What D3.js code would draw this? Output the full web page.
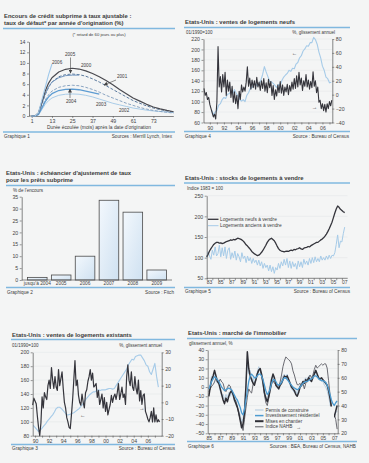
<!DOCTYPE html>
<html><head><meta charset="utf-8">
<script src="https://cdn.jsdelivr.net/npm/d3@7"></script>
<style>
html,body{margin:0;padding:0;background:#f4f5f5;}
svg{display:block;font-family:"Liberation Sans",Arial,sans-serif;}
</style></head><body>
<svg id="c" width="369" height="463"></svg>
<script>
// ---------- Graphique 1 : taux de défaut par année d'origination ----------
const p1Months = [1,3,5,7,9,11,13,17,21,25,29,33,37,41,45,49,53,57,61,65,69,73,77,81,85];
const p1_2000 = [0,0,0.6,2.6,4.7,6.2,7.2,8.3,8.8,9.0,8.85,8.5,8.0,7.4,6.7,5.9,5.0,4.2,3.4,2.8,2.2,1.7,1.35,1.05,0.8];
const p1_2001 = [0,0,0.4,2.2,4.0,5.4,6.4,7.4,7.8,7.9,7.8,7.5,7.0,6.4,5.7,5.0,4.3,3.6,2.9,2.4,1.9,1.5,1.2,0.95,0.75];
const p1_2002 = [0,0,0.3,1.6,3.0,4.0,4.7,5.4,5.7,5.8,5.7,5.4,5.0,4.5,3.9,3.4,2.9,2.4,2.0,1.6,1.3,1.05,0.85,0.7,0.55];
const p1_2003 = [0,0,0.2,1.2,2.2,2.9,3.4,3.9,4.1,4.15,4.1,3.9,3.6,3.2,2.8,2.4,2.1,1.8,1.5,1.3,1.1,0.95,0.85,0.75,0.65];
const p1_2004 = [0,0,0.3,1.5,2.7,3.6,4.2,4.8,5.0,5.05,4.95,4.7,4.4,4.1,null,null,null,null,null,null,null,null,null,null,null];
const p1_2005 = [0,0,0.5,2.4,4.2,5.5,6.4,7.2,7.6,7.7,7.7,null,null,null,null,null,null,null,null,null,null,null,null,null,null];
const p1_2006 = [0,0,0.6,3.0,5.4,7.8,9.8,null,null,null,null,null,null,null,null,null,null,null,null,null,null,null,null,null,null];
const p1YTicks = [0,2,4,6,8,10,12,14];
const p1XTicks = [1,13,25,37,49,61,73];

// ---------- Graphique 4 : ventes de logements neufs ----------
const p2Start = 1989 + 1/6;   // bimonthly points
const p2Yoy = [ // % glissement annuel (right axis)
  9,-1,3,-7,-4,
  -14,-20,-26,-32,-28,-35,
  -11,69,11,26,4,29,
  11,32,-1,21,5,18,
  -4,12,-11,4,-13,-1,
  -20,5,-7,14,4,11,
  5,18,40,12,24,8,
  21,10,20,8,25,11,
  18,6,20,9,23,5,
  17,3,22,10,19,-1,
  13,-7,7,-2,14,3,
  19,2,14,-1,11,4,
  15,0,13,5,18,8,
  23,9,27,11,32,14,
  24,6,20,12,29,11,
  21,8,19,10,33,12,
  20,3,11,-11,-8,-20,
  -13,-23,-14,-25,-13,-20,
  -10,-16,-8];
const p2LevelStart = 1990.25; // quarterly points
const p2Level = [ // 01/1990 = 100 (left axis)
  84,75,80,
  83,93,96,104,
  108,106,114,115,
  120,115,123,116,
  111,104,101,104,
  100,112,117,125,
  127,133,134,130,
  133,141,152,167,
  157,148,139,138,
  135,131,127,133,
  131,141,147,151,
  154,160,158,164,
  163,172,175,184,
  188,197,201,207,
  206,213,213,223,
  219,210,195,184,
  168,160,147,144,
  136,137];
const p2LeftTicks = [60,80,100,120,140,160,180,200,220];
const p2RightTicks = [-40,-20,0,20,40,60,80];

// ---------- Graphique 2 : échéancier d'ajustement ----------
const p3Cats = ["jusqu'à 2004","2005","2006","2007","2008","2009"];
const p3Vals = [1.1,2.1,10.0,33.5,28.5,4.2];
const p3Ticks = [0,5,10,15,20,25,30,35];

// ---------- Graphique 5 : stocks de logements à vendre ----------
const p4Start = 1983.0; // quarterly
const p4New = [
  102,108,116,122, 127,132,135,137, 137,135,136,134, 135,137,139,140,
  141,143,142,144, 143,145,147,146, 145,143,140,136, 131,128,124,120,
  115,112,109,107, 105,106,109,113, 118,124,130,137, 142,145,147,144,
  141,135,128,122, 118,116,115,114, 115,116,115,117, 118,117,120,119,
  121,122,124,121, 120,123,124,125, 127,126,129,131, 133,135,137,137,
  140,143,145,148, 152,157,163,170, 178,186,197,208, 218,225,222,217,
  214,211,209];
const p4Old = [
  100,114,104,96, 118,106,126,104, 110,130,102,124, 104,126,98,118,
  124,96,112,100, 116,94,110,102, 90,112,98,104, 88,104,92,100,
  86,98,88,94, 82,94,80,90, 74,86,76,82, 68,82,66,78,
  62,76,70,86, 74,90,80,96, 82,98,76,92, 74,90,78,86,
  72,92,78,90, 76,96,84,92, 82,98,86,100, 88,102,90,98,
  90,104,94,100, 94,104,96,106, 98,106,104,112, 132,155,124,140,
  138,158,174];
const p4Ticks = [50,100,150,200,250];
const p4Legend = ["Logements neufs à vendre","Logements anciens à vendre"];

// ---------- Graphique 3 : ventes de logements existants ----------
const p5YoyStart = 1989 + 4/6; // bimonthly
const p5Yoy = [
  -1.7,2.5,
  0.8,-0.8,-8.3,-15,-20,-12.5,
  3.3,-3.3,5.8,3.3,1.7,10,
  13.3,8.3,20.8,13.3,8.3,15.4,
  9.2,7.1,19.6,10,14.2,18.3,
  8.3,0,-3.3,-9.2,-11.7,-15,
  -15.8,-7.5,1.7,13.3,25,10,
  13.3,4.2,0,-1.7,5,0,
  -3.3,5.8,7.5,12.5,15.4,19.6,
  13.3,17.5,9.2,10,11.3,2.9,
  7.1,-1.3,1.7,5,-3.3,2.9,
  -5.4,0,-7.5,-4.2,-1.3,4.2,
  0,3.3,5,1.7,5.8,11.3,
  1.7,5,9.2,2.9,5,-1.3,
  15.4,22.5,13.3,10,18.3,9.2,
  7.1,15.4,8.3,5,13.3,0.8,
  7.1,-1.3,4.2,5,-5.4,-7.5,
  -10,-11.7,-9.2,-5.4,-11.7,-3.3,
  -11.7,-7.5,-11.7,-10.4,-11.7];
const p5LevelStart = 1989.75; // quarterly
const p5Level = [
  95,
  92,89,86,88, 91,94,97,101, 104,107,110,114, 119,121,121,119,
  116,113,110,110, 111,112,113,115, 117,119,122,125, 129,133,136,139,
  141,143,143,145, 146,145,146,146, 146,147,148,148, 147,148,152,156,
  160,164,168,172, 176,182,186,190, 189,194,195,196, 196,192,188,182,
  180,172,168,176, 184,165,150];
const p5LeftTicks = [80,100,120,140,160,180,200];
const p5RightTicks = [-20,-10,0,10,20,30];

// ---------- Graphique 6 : marché de l'immobilier ----------
const p6Start = 1985.0; // quarterly
const p6Permis = [
  -4,4,12,8, 14,8,4,6, -4,-10,-8,-14, -8,-12,-6,-10, -6,-10,-16,-14,
  -20,-26,-30,-38, -34,-22,4,24, 14,18,6,10, 4,12,16,22, 18,12,2,-8,
  -14,-10,-6,4, 10,12,6,4, 2,0,4,8, 12,14,10,14, 6,2,-2,-4,
  -6,-4,-8,-2, 2,4,6,8, 10,6,12,10, 8,12,16,14, 12,8,10,6,
  6,2,0,-4, -10,-18,-28,-36, -32,-28,-26];
const p6Invest = [
  -2,2,6,9, 11,10,8,6, 3,0,-2,-4, -3,-2,-1,-2, -3,-6,-9,-12,
  -14,-18,-22,-28, -30,-24,-14,-4, 6,12,14,12, 10,10,12,14, 14,12,8,2,
  -4,-8,-6,-2, 4,8,8,6, 3,2,3,5, 8,10,10,8, 6,4,2,0,
  -1,-2,-3,-2, 0,2,4,5, 6,6,7,8, 9,10,12,12, 11,9,8,7,
  7,6,5,2, -2,-8,-14,-18, -20,-17,-15];
const p6Mises = [
  -10,0,8,12, 18,12,6,4, -2,-8,-14,-18, -12,-16,-10,-6, -4,-8,-14,-18,
  -22,-28,-36,-44, -40,-28,0,38, 20,12,8,4, 2,8,14,18, 20,14,6,-6,
  -12,-16,-10,-2, 8,14,10,2, 0,-2,2,4, 8,12,10,12, 8,4,0,-2,
  -4,-8,-10,-6, 0,2,6,4, 8,6,10,8, 6,10,14,18, 14,10,8,10,
  8,6,4,2, -4,-12,-22,-30, -32,-26,-20];
const p6Nahb = [
  50,52,54,55, 57,60,58,57, 59,57,56,52, 50,53,55,54, 50,48,45,43,
  39,34,30,27, 22,30,38,46, 52,50,49,55, 57,58,63,66, 66,61,55,48,
  42,40,45,50, 55,58,56,55, 55,54,57,62, 68,72,75,74, 73,72,70,65,
  62,58,55,55, 56,54,56,52, 56,58,60,62, 60,62,66,69, 67,68,69,70,
  69,70,70,67, 58,48,38,32, 34,30,23];
const p6LeftTicks = [-50,-40,-30,-20,-10,0,10,20,30,40];
const p6RightTicks = [20,30,40,50,60,70,80];
const p6Legend = ["Permis de construire","Investissement résidentiel","Mises en chantier","Indice NAHB"];

// =====================================================================
const svg = d3.select("#c");
const RULE = "#80b8df", DARK = "#35353c", LIGHT = "#a6cbe8", TXT = "#3a3a3a";

const defs = svg.append("defs");
defs.append("marker").attr("id","ah").attr("markerUnits","userSpaceOnUse")
  .attr("markerWidth",4).attr("markerHeight",4).attr("refX",3.5).attr("refY",2).attr("orient","auto")
  .append("path").attr("d","M0,0L4,2L0,4z").attr("fill","#444");
const grad = defs.append("linearGradient").attr("id","bar").attr("x1",0).attr("x2",1).attr("y1",0).attr("y2",1);
grad.append("stop").attr("offset","0%").attr("stop-color","#f3f8fd");
grad.append("stop").attr("offset","100%").attr("stop-color","#cfe1f1");

function text(x,y,s,o={}){
  return svg.append("text").attr("x",x).attr("y",y).text(s)
    .attr("font-size",o.size||5).attr("font-weight",o.bold?"bold":null)
    .attr("fill",o.color||TXT).attr("text-anchor",o.anchor||"start");
}
function rule(x1,x2,y){
  svg.append("line").attr("x1",x1).attr("x2",x2).attr("y1",y).attr("y2",y)
    .attr("stroke",RULE).attr("stroke-width",1.4);
}
function styleAxis(g,size){
  g.attr("font-family",null).attr("font-size",size||5.2);
  g.select(".domain").attr("stroke","#555").attr("stroke-width",0.7);
  g.selectAll(".tick line").attr("stroke","#555").attr("stroke-width",0.6);
  g.selectAll(".tick text").attr("fill","#444");
  return g;
}
function grid(y,ticks,x1,x2){
  svg.append("g").selectAll("line").data(ticks).join("line")
    .attr("x1",x1).attr("x2",x2).attr("y1",d=>y(d)).attr("y2",d=>y(d))
    .attr("stroke","#e1e4e7").attr("stroke-width",0.5);
}
function series(start,step,vals){ return vals.map((v,i)=>[start+i*step,v]); }
function drawLine(data,x,y,color,w,dash){
  svg.append("path").datum(data)
    .attr("d",d3.line().defined(d=>d[1]!==null).x(d=>x(d[0])).y(d=>y(d[1])))
    .attr("fill","none").attr("stroke",color).attr("stroke-width",w)
    .attr("stroke-dasharray",dash||null).attr("stroke-linejoin","round");
}

// ---------------- Panel 1 ----------------
{
  text(4,18,"Encours de crédit subprime à taux ajustable :",{bold:true,size:5.9});
  text(4,24.5,"taux de défaut* par année d'origination (%)",{bold:true,size:5.9});
  rule(3,175,28.5);
  text(99,35.5,"(* retard de 60 jours ou plus)",{size:4.2,anchor:"middle"});
  const x = d3.scaleLinear().domain([1,84.8]).range([31.7,173.3]);
  const y = d3.scaleLinear().domain([0,14]).range([116,41.7]);
  styleAxis(svg.append("g").attr("transform","translate(29,0)")
    .call(d3.axisLeft(y).tickValues(p1YTicks).tickSize(2).tickSizeOuter(0).tickPadding(1.5)));
  styleAxis(svg.append("g").attr("transform","translate(0,116)")
    .call(d3.axisBottom(x).tickValues(p1XTicks).tickSize(2).tickSizeOuter(0).tickPadding(1.5)));
  svg.append("line").attr("x1",29).attr("x2",31.7).attr("y1",116).attr("y2",116).attr("stroke","#555").attr("stroke-width",0.7);
  const mk = vals => p1Months.map((m,i)=>[m,vals[i]]);
  drawLine(mk(p1_2003),x,y,"#a9cce8",1.0);
  drawLine(mk(p1_2002),x,y,"#7e9bbb",0.9,"3,1.6");
  drawLine(mk(p1_2004),x,y,"#5d9cd2",1.3);
  drawLine(mk(p1_2001),x,y,"#4a6c94",0.9,"3,1.6");
  drawLine(mk(p1_2005),x,y,"#7497bf",1.0);
  drawLine(mk(p1_2000),x,y,"#4a4a50",1.2);
  drawLine(mk(p1_2006),x,y,"#9fc8ea",1.1);
  text(52,63.5,"2006",{size:4.6});
  text(65,56,"2005",{size:4.6});
  text(81,67,"2000",{size:4.6});
  text(117,77.5,"2001",{size:4.6});
  text(66,103,"2004",{size:4.6});
  text(96,106,"2003",{size:4.6});
  text(119,112,"2002",{size:4.6});
  const arr=(x1,y1,x2,y2)=>svg.append("line").attr("x1",x1).attr("y1",y1).attr("x2",x2).attr("y2",y2)
    .attr("stroke","#444").attr("stroke-width",0.6).attr("marker-end","url(#ah)");
  arr(70.5,57.5,70.5,73);
  arr(116,80,104,85);
  arr(70,98,70,89);
  text(99,129,"Durée écoulée (mois) après la date d'origination",{size:4.9,anchor:"middle"});
  rule(3,175,132);
  text(4,137.5,"Graphique 1",{size:4.7});
  text(172,137.5,"Sources : Merrill Lynch, Intex",{size:4.7,anchor:"end"});
}

// ---------------- Panel 2 ----------------
{
  text(185,23.5,"Etats-Unis : ventes de logements neufs",{bold:true,size:5.9});
  rule(184,350,27.5);
  text(186,33.5,"01/1990=100",{size:4.5});
  text(335,33.5,"%, glissement annuel",{size:4.5,anchor:"end"});
  const x = d3.scaleLinear().domain([1989.1,2007.4]).range([203.5,332.3]);
  const yL = d3.scaleLinear().domain([60,220]).range([122.5,39]);
  const yR = d3.scaleLinear().domain([-40,80]).range([122.5,39]);
  grid(yL,p2LeftTicks.slice(1),203.5,332.3);
  drawLine(series(p2LevelStart,0.25,p2Level),x,yL,LIGHT,1.1);
  drawLine(series(p2Start,1/6,p2Yoy),x,yR,DARK,1.1);
  styleAxis(svg.append("g").attr("transform","translate(203.5,0)")
    .call(d3.axisLeft(yL).tickValues(p2LeftTicks).tickSize(2).tickSizeOuter(0).tickPadding(1.5)));
  styleAxis(svg.append("g").attr("transform","translate(332.3,0)")
    .call(d3.axisRight(yR).tickValues(p2RightTicks).tickSize(2).tickSizeOuter(0).tickPadding(1.5)));
  styleAxis(svg.append("g").attr("transform","translate(0,122.5)")
    .call(d3.axisBottom(x).tickValues(d3.range(1990,2008)).tickSize(2).tickSizeOuter(0).tickPadding(1.5)
      .tickFormat(d=>d%2===0?String(d).slice(2):"")));
  text(291.7,55,"←",{size:5.5});
  text(311.7,108.5,"→",{size:5.5});
  rule(184,350,131.5);
  text(185,137.5,"Graphique 4",{size:4.7});
  text(349,137.5,"Source : Bureau of Census",{size:4.7,anchor:"end"});
}

// ---------------- Panel 3 ----------------
{
  text(6,174.5,"Etats-Unis : échéancier d'ajustement de taux",{bold:true,size:5.9});
  text(6,182,"pour les prêts subprime",{bold:true,size:5.9});
  rule(6,175,185.5);
  text(13,191.5,"% de l'encours",{size:4.6});
  const x = d3.scaleBand().domain(p3Cats).range([22,172]).paddingInner(0.18).paddingOuter(0.23);
  const y = d3.scaleLinear().domain([0,35]).range([280,196.7]);
  svg.append("g").selectAll("rect").data(p3Cats).join("rect")
    .attr("x",d=>x(d)).attr("width",x.bandwidth())
    .attr("y",(d,i)=>y(p3Vals[i])).attr("height",(d,i)=>280-y(p3Vals[i]))
    .attr("fill","url(#bar)").attr("stroke","#4a4a4a").attr("stroke-width",0.8);
  styleAxis(svg.append("g").attr("transform","translate(21.7,0)")
    .call(d3.axisLeft(y).tickValues(p3Ticks).tickSize(2).tickSizeOuter(0).tickPadding(1.5)));
  const gx = styleAxis(svg.append("g").attr("transform","translate(0,280)")
    .call(d3.axisBottom(x).tickSize(0).tickSizeOuter(0).tickPadding(2)),4.8);
  gx.select(".domain").attr("d","M21.7,0H172");
  rule(6,175,287.5);
  text(7,294,"Graphique 2",{size:4.7});
  text(174,294,"Source : Fitch",{size:4.7,anchor:"end"});
}

// ---------------- Panel 4 ----------------
{
  text(185,179.5,"Etats-Unis : stocks de logements à vendre",{bold:true,size:5.9});
  rule(184,350,183);
  text(187,189.5,"Indice 1983 = 100",{size:4.5});
  const x = d3.scaleLinear().domain([1983,2007.75]).range([206.7,346.1]);
  const y = d3.scaleLinear().domain([50,250]).range([278.3,195.7]);
  grid(y,p4Ticks.slice(1),206.7,347.5);
  drawLine(series(p4Start,0.25,p4Old),x,y,LIGHT,1.0);
  drawLine(series(p4Start,0.25,p4New),x,y,DARK,1.3);
  styleAxis(svg.append("g").attr("transform","translate(206.7,0)")
    .call(d3.axisLeft(y).tickValues(p4Ticks).tickSize(2).tickSizeOuter(0).tickPadding(1.5)));
  const gx = styleAxis(svg.append("g").attr("transform","translate(0,278.3)")
    .call(d3.axisBottom(x).tickValues(d3.range(1983,2008)).tickSize(2).tickSizeOuter(0).tickFormat("")));
  gx.select(".domain").attr("d","M206.7,0H347.7");
  svg.append("g").selectAll("text").data(d3.range(1983,2008,2)).join("text")
    .attr("x",d=>x(d+0.5)).attr("y",284).attr("text-anchor","middle").attr("font-size",5)
    .attr("fill","#444").text(d=>String(d).slice(2));
  [[DARK,1.3],[LIGHT,1.0]].forEach((s,i)=>{
    const yy = 219.3 + i*6.4;
    svg.append("line").attr("x1",208).attr("x2",218.5).attr("y1",yy).attr("y2",yy)
      .attr("stroke",s[0]).attr("stroke-width",s[1]);
    text(220,yy+1.6,p4Legend[i],{size:4.8});
  });
  rule(184,350,287.5);
  text(185,292.5,"Graphique 5",{size:4.7});
  text(350,292.5,"Source : Bureau of Census",{size:4.7,anchor:"end"});
}

// ---------------- Panel 5 ----------------
{
  text(12,336.5,"Etats-Unis : ventes de logements existants",{bold:true,size:5.9});
  rule(11,175,339.5);
  text(12,346.5,"01/1990=100",{size:4.5});
  text(162,346.5,"%, glissement annuel",{size:4.5,anchor:"end"});
  const x = d3.scaleLinear().domain([1989.67,2007.97]).range([32.7,161.7]);
  const yL = d3.scaleLinear().domain([80,200]).range([435.7,352.3]);
  const yR = d3.scaleLinear().domain([-20,30]).range([435.7,352.3]);
  grid(yL,p5LeftTicks.slice(1),32.7,161.7);
  drawLine(series(p5LevelStart,0.25,p5Level),x,yL,LIGHT,1.1);
  drawLine(series(p5YoyStart,1/6,p5Yoy),x,yR,DARK,1.2);
  styleAxis(svg.append("g").attr("transform","translate(32.7,0)")
    .call(d3.axisLeft(yL).tickValues(p5LeftTicks).tickSize(2).tickSizeOuter(0).tickPadding(1.5)));
  styleAxis(svg.append("g").attr("transform","translate(161.7,0)")
    .call(d3.axisRight(yR).tickValues(p5RightTicks).tickSize(2).tickSizeOuter(0).tickPadding(1.5)));
  styleAxis(svg.append("g").attr("transform","translate(0,435.7)")
    .call(d3.axisBottom(x).tickValues(d3.range(1990,2008)).tickSize(2).tickSizeOuter(0).tickPadding(1.5)
      .tickFormat(d=>d%2===0?String(d).slice(2):"")));
  text(80,416.5,"←",{size:5.5});
  text(139,410,"→",{size:5.5});
  rule(11,175,444.5);
  text(12,450,"Graphique 3",{size:4.7});
  text(175,450,"Source : Bureau of Census",{size:4.7,anchor:"end"});
}

// ---------------- Panel 6 ----------------
{
  text(188,334.5,"Etats-Unis : marché de l'immobilier",{bold:true,size:5.9});
  rule(187,357,338.5);
  text(189,345,"glissement annuel, %",{size:4.6});
  const x = d3.scaleLinear().domain([1984.8,2007.6]).range([207.7,337.7]);
  const yL = d3.scaleLinear().domain([-50,40]).range([433.3,350]);
  const yR = d3.scaleLinear().domain([20,80]).range([433.3,350]);
  grid(yL,p6LeftTicks.slice(1),207.7,337.7);
  drawLine(series(p6Start,0.25,p6Permis),x,yL,"#b8cfe2",1.0);
  drawLine(series(p6Start,0.25,p6Nahb),x,yR,"#5a5a62",0.9);
  drawLine(series(p6Start,0.25,p6Mises),x,yL,"#2f2f36",1.5);
  drawLine(series(p6Start,0.25,p6Invest),x,yL,"#4d9bd0",1.3);
  styleAxis(svg.append("g").attr("transform","translate(207.7,0)")
    .call(d3.axisLeft(yL).tickValues(p6LeftTicks).tickSize(2).tickSizeOuter(0).tickPadding(1.5)));
  styleAxis(svg.append("g").attr("transform","translate(337.7,0)")
    .call(d3.axisRight(yR).tickValues(p6RightTicks).tickSize(2).tickSizeOuter(0).tickPadding(1.5)));
  styleAxis(svg.append("g").attr("transform","translate(0,433.3)")
    .call(d3.axisBottom(x).tickValues(d3.range(1985,2008)).tickSize(2).tickSizeOuter(0).tickPadding(1.5)
      .tickFormat(d=>d%2===1?String(d).slice(2):"")));
  svg.append("rect").attr("x",253).attr("y",406.5).attr("width",81).attr("height",23)
    .attr("fill","#f4f5f5");
  const legStyles = [["#b8cfe2",1.2],["#4d9bd0",1.5],["#2f2f36",2.0],["#5a5a62",1.0]];
  legStyles.forEach((s,i)=>{
    const yy = 410 + i*5.6;
    svg.append("line").attr("x1",255).attr("x2",263.5).attr("y1",yy).attr("y2",yy)
      .attr("stroke",s[0]).attr("stroke-width",s[1]);
    text(265.5,yy+1.6,p6Legend[i],{size:4.7});
  });
  text(296,428.5,"→",{size:5});
  rule(187,357,441.5);
  text(188,447.5,"Graphique 6",{size:4.7});
  text(356,447.5,"Sources : BEA, Bureau of Census, NAHB",{size:4.7,anchor:"end"});
}
</script>
</body></html>
